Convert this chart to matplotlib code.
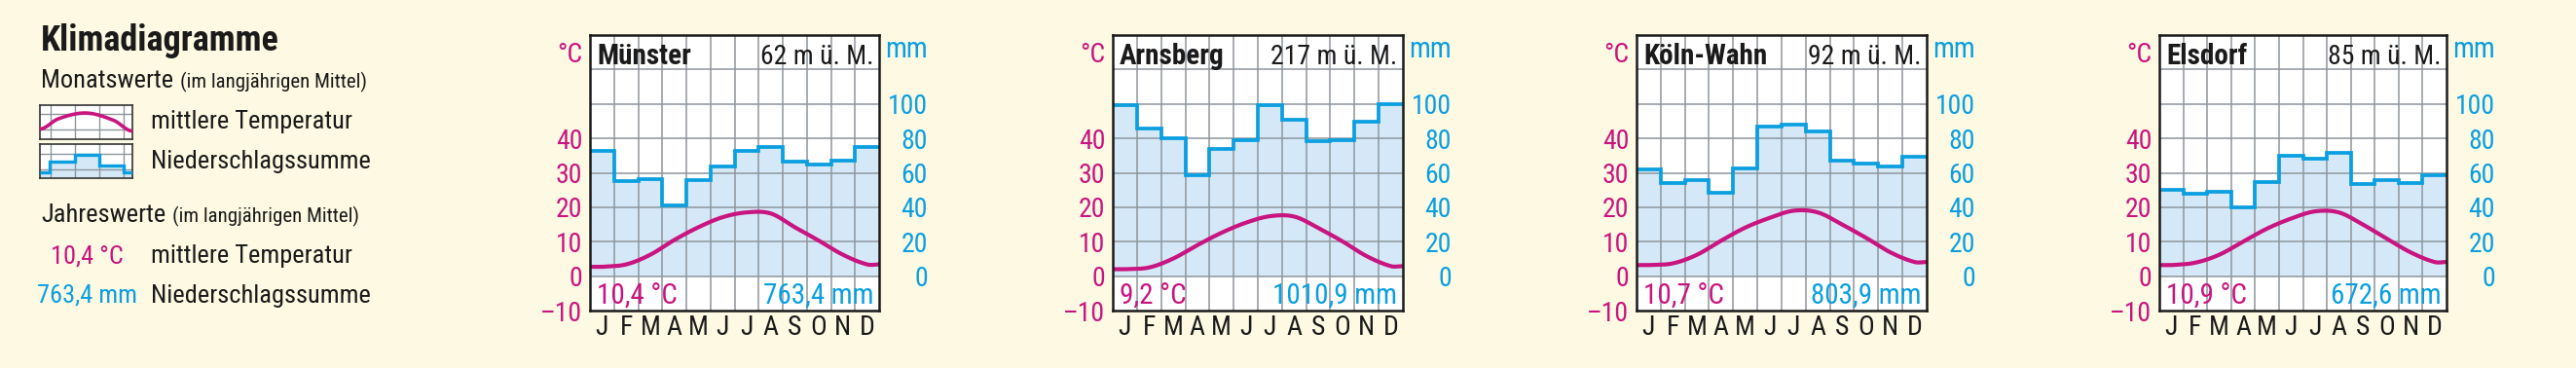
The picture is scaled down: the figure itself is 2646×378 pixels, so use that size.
import matplotlib
matplotlib.use("Agg")
import matplotlib.pyplot as plt
from matplotlib import font_manager as fm
import numpy as np

# ---------------- data ----------------
months = ["J", "F", "M", "A", "M", "J", "J", "A", "S", "O", "N", "D"]
stations = ["Münster", "Arnsberg", "Köln-Wahn", "Elsdorf"]
elevations = ["62 m ü. M.", "217 m ü. M.", "92 m ü. M.", "85 m ü. M."]
annual_temp = ["10,4 °C", "9,2 °C", "10,7 °C", "10,9 °C"]
annual_prec = ["763,4 mm", "1010,9 mm", "803,9 mm", "672,6 mm"]

temp_muenster = [2.7, 3.4, 6.2, 10.5, 14.2, 17.1, 18.5, 18.2, 14.2, 10.3, 6.2, 3.4]
prec_muenster = [72.7, 55.2, 56.1, 41.1, 55.6, 63.7, 72.9, 74.8, 66.7, 64.8, 67.0, 75.1]
temp_arnsberg = [2.0, 2.5, 5.1, 9.0, 12.6, 15.5, 17.4, 17.3, 14.0, 10.1, 5.8, 2.9]
prec_arnsberg = [99.5, 86.0, 80.2, 58.6, 73.6, 78.9, 99.2, 91.0, 78.3, 78.8, 89.8, 99.6]
temp_koeln = [3.2, 3.7, 6.2, 10.3, 14.1, 16.9, 19.0, 18.5, 15.0, 11.1, 6.9, 4.1]
prec_koeln = [62.1, 54.2, 55.6, 48.2, 62.7, 86.8, 87.9, 83.8, 67.2, 65.2, 63.8, 69.5]
temp_elsdorf = [3.2, 3.9, 6.2, 10.0, 13.8, 16.7, 18.8, 18.5, 15.0, 10.9, 6.9, 4.1]
prec_elsdorf = [49.9, 47.6, 49.2, 39.7, 54.8, 69.7, 68.2, 71.4, 53.7, 55.7, 54.0, 58.4]

temp_ticks = [-10, 0, 10, 20, 30, 40]
prec_ticks = [0, 20, 40, 60, 80, 100]

# legend sample shapes (fractions of the little sample boxes)
icon_arc_x = [0.0, 0.2, 0.5, 0.8, 1.0]
icon_arc_y = [0.30, 0.60, 0.77, 0.55, 0.24]
icon_step_edges = [0.0, 0.10, 0.377, 0.64, 0.90, 1.0]
icon_step_vals = [0.16, 0.50, 0.69, 0.37, 0.17]

# ---------------- style ----------------
W, H = 2646, 378
BG = "#fdf9e2"
MAG = "#c8157f"
BLUE = "#0b9fe0"
FILL = "#d5e8f8"
GRID = "#8e969c"
BLACK = "#1a1a1a"

names = {f.name for f in fm.fontManager.ttflist}


def pick(cands):
    for c in cands:
        if c in names:
            return c
    return "DejaVu Sans"


REG = pick(["Roboto Condensed", "Liberation Sans Narrow", "DejaVu Sans Condensed",
            "Open Sans Condensed", "Roboto", "Liberation Sans"])
FS = 20          # tick labels, month labels
FS_L = 19        # legend body text
FS_T = 21        # station titles
FS_E = 20        # elevation / annual values in charts
FS_H = 26        # legend heading
FS_S = 15        # "(im langjährigen Mittel)"
plt.rcParams["font.family"] = [REG, "DejaVu Sans"]

fig = plt.figure(figsize=(W / 100, H / 100), dpi=100)
fig.patch.set_facecolor(BG)


def fx(px):
    return px / W


def fy(py):
    return 1 - py / H


def smooth(xs, ys, n=30):
    xs = np.asarray(xs, float)
    ys = np.asarray(ys, float)
    m = np.zeros_like(ys)
    for i in range(1, len(xs) - 1):
        m[i] = (ys[i + 1] - ys[i - 1]) / (xs[i + 1] - xs[i - 1])
    ox, oy = [], []
    for i in range(len(xs) - 1):
        h = xs[i + 1] - xs[i]
        t = np.linspace(0, 1, n, endpoint=(i == len(xs) - 2))
        h00 = 2 * t**3 - 3 * t**2 + 1
        h10 = t**3 - 2 * t**2 + t
        h01 = -2 * t**3 + 3 * t**2
        h11 = t**3 - t**2
        ox.append(xs[i] + t * h)
        oy.append(h00 * ys[i] + h10 * h * m[i] + h01 * ys[i + 1] + h11 * h * m[i + 1])
    return np.concatenate(ox), np.concatenate(oy)


def draw_station(left, width, name, elev, tmean, psum, temp, prec):
    ax2 = fig.add_axes([fx(left), fy(319), fx(width), 283 / H])
    ax = ax2.twinx()
    ax.set_zorder(ax2.get_zorder() + 1)
    ax.patch.set_visible(False)
    ax2.set_facecolor("white")
    ax.set_xlim(0, 12)
    ax.set_ylim(-10, 70)
    ax2.set_ylim(-20, 140)

    ax2.yaxis.tick_right()
    ax.yaxis.tick_left()

    edges = np.arange(13)
    ax2.stairs(prec, edges, baseline=0, fill=True, color=FILL, zorder=1, lw=0)
    for v in range(0, 140, 20):
        ax2.axhline(v, color=GRID, lw=1.1, zorder=2)
    for xv in range(1, 12):
        ax2.axvline(xv, color=GRID, lw=1.1, zorder=2)
    ax2.stairs(prec, edges, baseline=None, color=BLUE, lw=2.7, zorder=3,
               joinstyle="miter")

    centers = np.arange(12) + 0.5
    xs = np.concatenate([[0], centers, [12]])
    ys = np.concatenate([[temp[0]], temp, [temp[-1]]])
    sx, sy = smooth(xs, ys)
    ax.plot(sx, sy, color=MAG, lw=3.0, zorder=4, solid_capstyle="butt")

    ax.set_yticks(temp_ticks, [str(t).replace("-", "\u2013") for t in temp_ticks])
    ax.tick_params(axis="y", length=0, pad=5.5, labelcolor=MAG, labelsize=FS)
    ax2.set_yticks(prec_ticks, [str(p) for p in prec_ticks])
    ax2.tick_params(axis="y", length=0, pad=36, labelcolor=BLUE, labelsize=FS)
    for t in ax2.get_yticklabels():
        t.set_horizontalalignment("right")
    ax2.set_xticks(centers, months)
    ax2.tick_params(axis="x", length=0, pad=3, labelsize=FS, labelcolor=BLACK)
    ax.tick_params(axis="x", length=0, labelbottom=False)

    for s in ax2.spines.values():
        s.set_visible(False)
    for s in ax.spines.values():
        s.set_color(BLACK)
        s.set_linewidth(1.8)
        s.set_zorder(10)

    ytr = ax.get_yaxis_transform()
    ax.annotate("°C", xy=(0, 65), xycoords=ytr, xytext=(-5.5, 0),
                textcoords="offset points", ha="right", va="center_baseline",
                color=MAG, fontsize=FS, annotation_clip=False)
    ax.annotate("mm", xy=(1, 66.5), xycoords=ytr, xytext=(36, 0),
                textcoords="offset points", ha="right", va="center_baseline",
                color=BLUE, fontsize=FS + 1, annotation_clip=False)
    ax.annotate(name, xy=(0, 61.6), xycoords=ytr, xytext=(5, 0),
                textcoords="offset points", ha="left", va="baseline",
                color=BLACK, fontsize=FS_T, fontweight="bold", zorder=6)
    ax.annotate(elev, xy=(1, 61.6), xycoords=ytr, xytext=(-4, 0),
                textcoords="offset points", ha="right", va="baseline",
                color=BLACK, fontsize=FS_E, zorder=6)
    ax.annotate(tmean, xy=(0, -8.0), xycoords=ytr, xytext=(5, 0),
                textcoords="offset points", ha="left", va="baseline",
                color=MAG, fontsize=FS_E + 1, zorder=6)
    ax.annotate(psum, xy=(1, -8.0), xycoords=ytr, xytext=(-4, 0),
                textcoords="offset points", ha="right", va="baseline",
                color=BLUE, fontsize=FS_E + 1, zorder=6)


lefts = [606, 1143, 1681, 2218]
widths = [297, 298, 298, 295]
temps = [temp_muenster, temp_arnsberg, temp_koeln, temp_elsdorf]
precs = [prec_muenster, prec_arnsberg, prec_koeln, prec_elsdorf]
for i in range(4):
    draw_station(lefts[i], widths[i], stations[i], elevations[i],
                 annual_temp[i], annual_prec[i], temps[i], precs[i])

# ---------------- legend ----------------
fig.text(fx(42), fy(52), "Klimadiagramme", fontsize=FS_H, fontweight="bold",
         color=BLACK, va="baseline", ha="left")
t_mon = fig.text(fx(42), fy(90), "Monatswerte", fontsize=FS_L, color=BLACK, va="baseline")
fig.text(fx(155), fy(132), "mittlere Temperatur", fontsize=FS_L, color=BLACK, va="baseline")
fig.text(fx(155), fy(173), "Niederschlagssumme", fontsize=FS_L, color=BLACK, va="baseline")
t_jahr = fig.text(fx(42), fy(228), "Jahreswerte", fontsize=FS_L, color=BLACK, va="baseline")
fig.text(fx(89), fy(270), annual_temp[0], fontsize=FS_L, color=MAG, va="baseline", ha="center")
fig.text(fx(155), fy(270), "mittlere Temperatur", fontsize=FS_L, color=BLACK, va="baseline")
fig.text(fx(89), fy(311), annual_prec[0], fontsize=FS_L, color=BLUE, va="baseline", ha="center")
fig.text(fx(155), fy(311), "Niederschlagssumme", fontsize=FS_L, color=BLACK, va="baseline")

# parenthetical remarks placed right after the measured heading words
renderer = fig.canvas.get_renderer()
for t, ypx in [(t_mon, 90), (t_jahr, 228)]:
    x1 = t.get_window_extent(renderer).x1
    fig.text((x1 + 7) / W, fy(ypx), "(im langjährigen Mittel)", fontsize=FS_S,
             color=BLACK, va="baseline")


def icon_axes(top, bottom, hlines):
    a = fig.add_axes([fx(41), fy(bottom), fx(136) - fx(41), (bottom - top) / H])
    a.set_xlim(0, 1)
    a.set_ylim(0, 1)
    a.set_facecolor("white")
    a.set_xticks([])
    a.set_yticks([])
    for s in a.spines.values():
        s.set_color("#333333")
        s.set_linewidth(1.2)
    for v in [0.113, 0.377, 0.64, 0.905]:
        a.axvline(v, color=GRID, lw=1.0, zorder=2)
    for h in hlines:
        a.axhline(h, color=GRID, lw=1.0, zorder=2)
    return a


ia = icon_axes(108, 143, [0.29, 0.74])
sx, sy = smooth(icon_arc_x, icon_arc_y)
ia.plot(sx, sy, color=MAG, lw=2.6, zorder=3)

ib = icon_axes(148, 183, [0.25, 0.71])
ib.stairs(icon_step_vals, icon_step_edges, baseline=0, fill=True, color=FILL, lw=0, zorder=1)
ib.stairs(icon_step_vals, icon_step_edges, baseline=None, color=BLUE, lw=2.4, zorder=3)

fig.savefig("out.png", dpi=100, facecolor=BG)
